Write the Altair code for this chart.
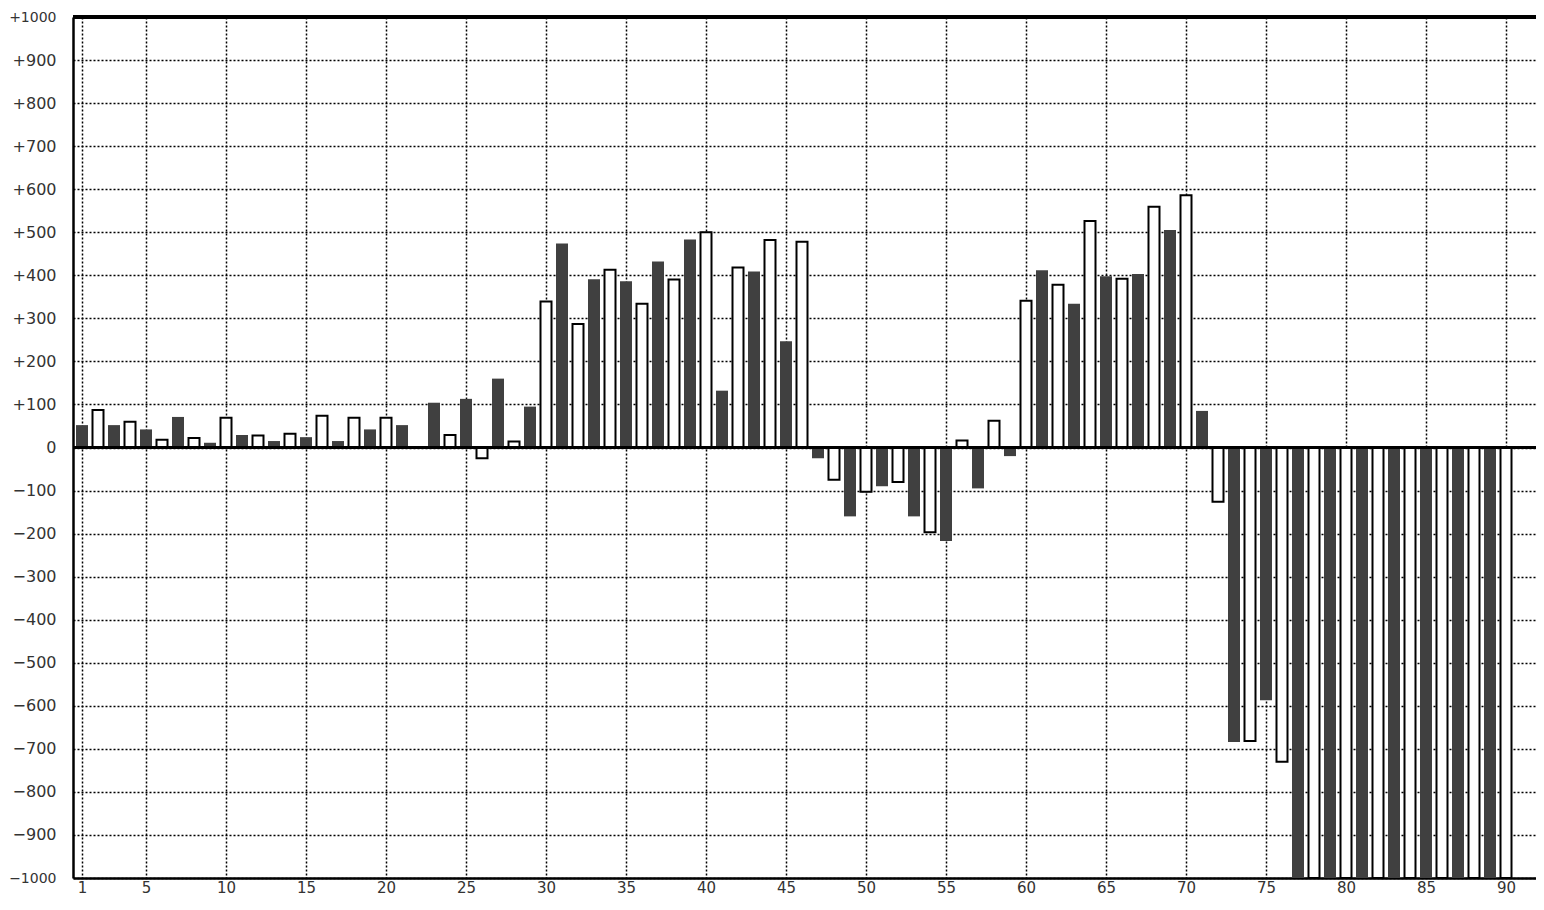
import altair as alt
import pandas as pd

positions = list(range(1, 91))
values = [52, 87, 52, 60, 42, 18, 71, 22, 11, 69,
          29, 28, 15, 32, 24, 74, 15, 69, 42, 69,
          52, 0, 104, 29, 113, -25, 160, 14, 95, 339,
          474, 287, 391, 413, 386, 334, 432, 390, 483, 500,
          132, 418, 409, 482, 247, 478, -25, -75, -160, -103,
          -90, -80, -160, -197, -217, 16, -95, 62, -20, 341,
          412, 378, 334, 526, 398, 392, 403, 559, 505, 586,
          85, -126, -684, -682, -587, -730, -1000, -1000, -1000, -1000,
          -1000, -1000, -1000, -1000, -1000, -1000, -1000, -1000, -1000, -1000]
groups = ["dark" if p % 2 == 1 else "light" for p in positions]
x_ticks = [1, 5, 10, 15, 20, 25, 30, 35, 40, 45, 50, 55, 60, 65, 70, 75, 80, 85, 90]
y_ticks = list(range(-1000, 1001, 100))

df = pd.DataFrame({"pos": positions, "value": values, "group": groups})

x_scale = alt.Scale(domain=[0.4375, 91.875], nice=False, zero=False, padding=0)
y_scale = alt.Scale(domain=[-1000, 1000], nice=False)

x_axis = alt.Axis(values=x_ticks, title=None, grid=True, gridColor="black",
                  gridDash=[2, 2], gridWidth=1.5, gridOpacity=1, ticks=False, tickSize=0,
                  domain=True, domainColor="black", domainWidth=2.5,
                  labelFont="DejaVu Sans", labelFontSize=15, labelColor="#333333",
                  labelPadding=2, labelBaseline="top")
y_axis = alt.Axis(values=y_ticks, title=None, grid=True, gridColor="black",
                  gridDash=[2, 2], gridWidth=1.5, gridOpacity=1, ticks=False, tickSize=0,
                  domain=True, domainColor="black", domainWidth=2.5,
                  labelFont="DejaVu Sans",
                  labelFontSize={"condition": {"test": "abs(datum.value) >= 1000", "value": 14}, "value": 16},
                  labelColor="#333333",
                  labelPadding=17,
                  labelExpr="datum.value > 0 ? '+' + datum.value : (datum.value < 0 ? '\u2212' + abs(datum.value) : '0')")

base = alt.Chart(df)

dark = base.transform_filter(alt.datum.group == "dark").mark_bar(
    size=12, color="#404040", clip=True
).encode(
    x=alt.X("pos:Q", scale=x_scale, axis=x_axis),
    y=alt.Y("value:Q", scale=y_scale, axis=y_axis),
    y2=alt.datum(0),
)

light = base.transform_filter(alt.datum.group == "light").mark_bar(
    size=11, fill="white", stroke="black", strokeWidth=2, clip=True
).encode(
    x=alt.X("pos:Q", scale=x_scale),
    y=alt.Y("value:Q", scale=y_scale),
    y2=alt.datum(0),
)

zero = alt.Chart(df).mark_rule(color="black", strokeWidth=2.5).encode(
    y=alt.datum(0, scale=y_scale)
)
top = alt.Chart(df).mark_rule(color="black", strokeWidth=2.5).encode(
    y=alt.datum(1000, scale=y_scale)
)

chart = alt.layer(dark, light, zero, top).properties(
    width=1463,
    height=861,
    autosize=alt.AutoSizeParams(type="none"),
    padding={"left": 65, "top": 9, "right": 0, "bottom": 20},
    background="white",
).configure_view(stroke=None)

chart.save("out.html", embed_options={"renderer": "svg", "actions": False})
